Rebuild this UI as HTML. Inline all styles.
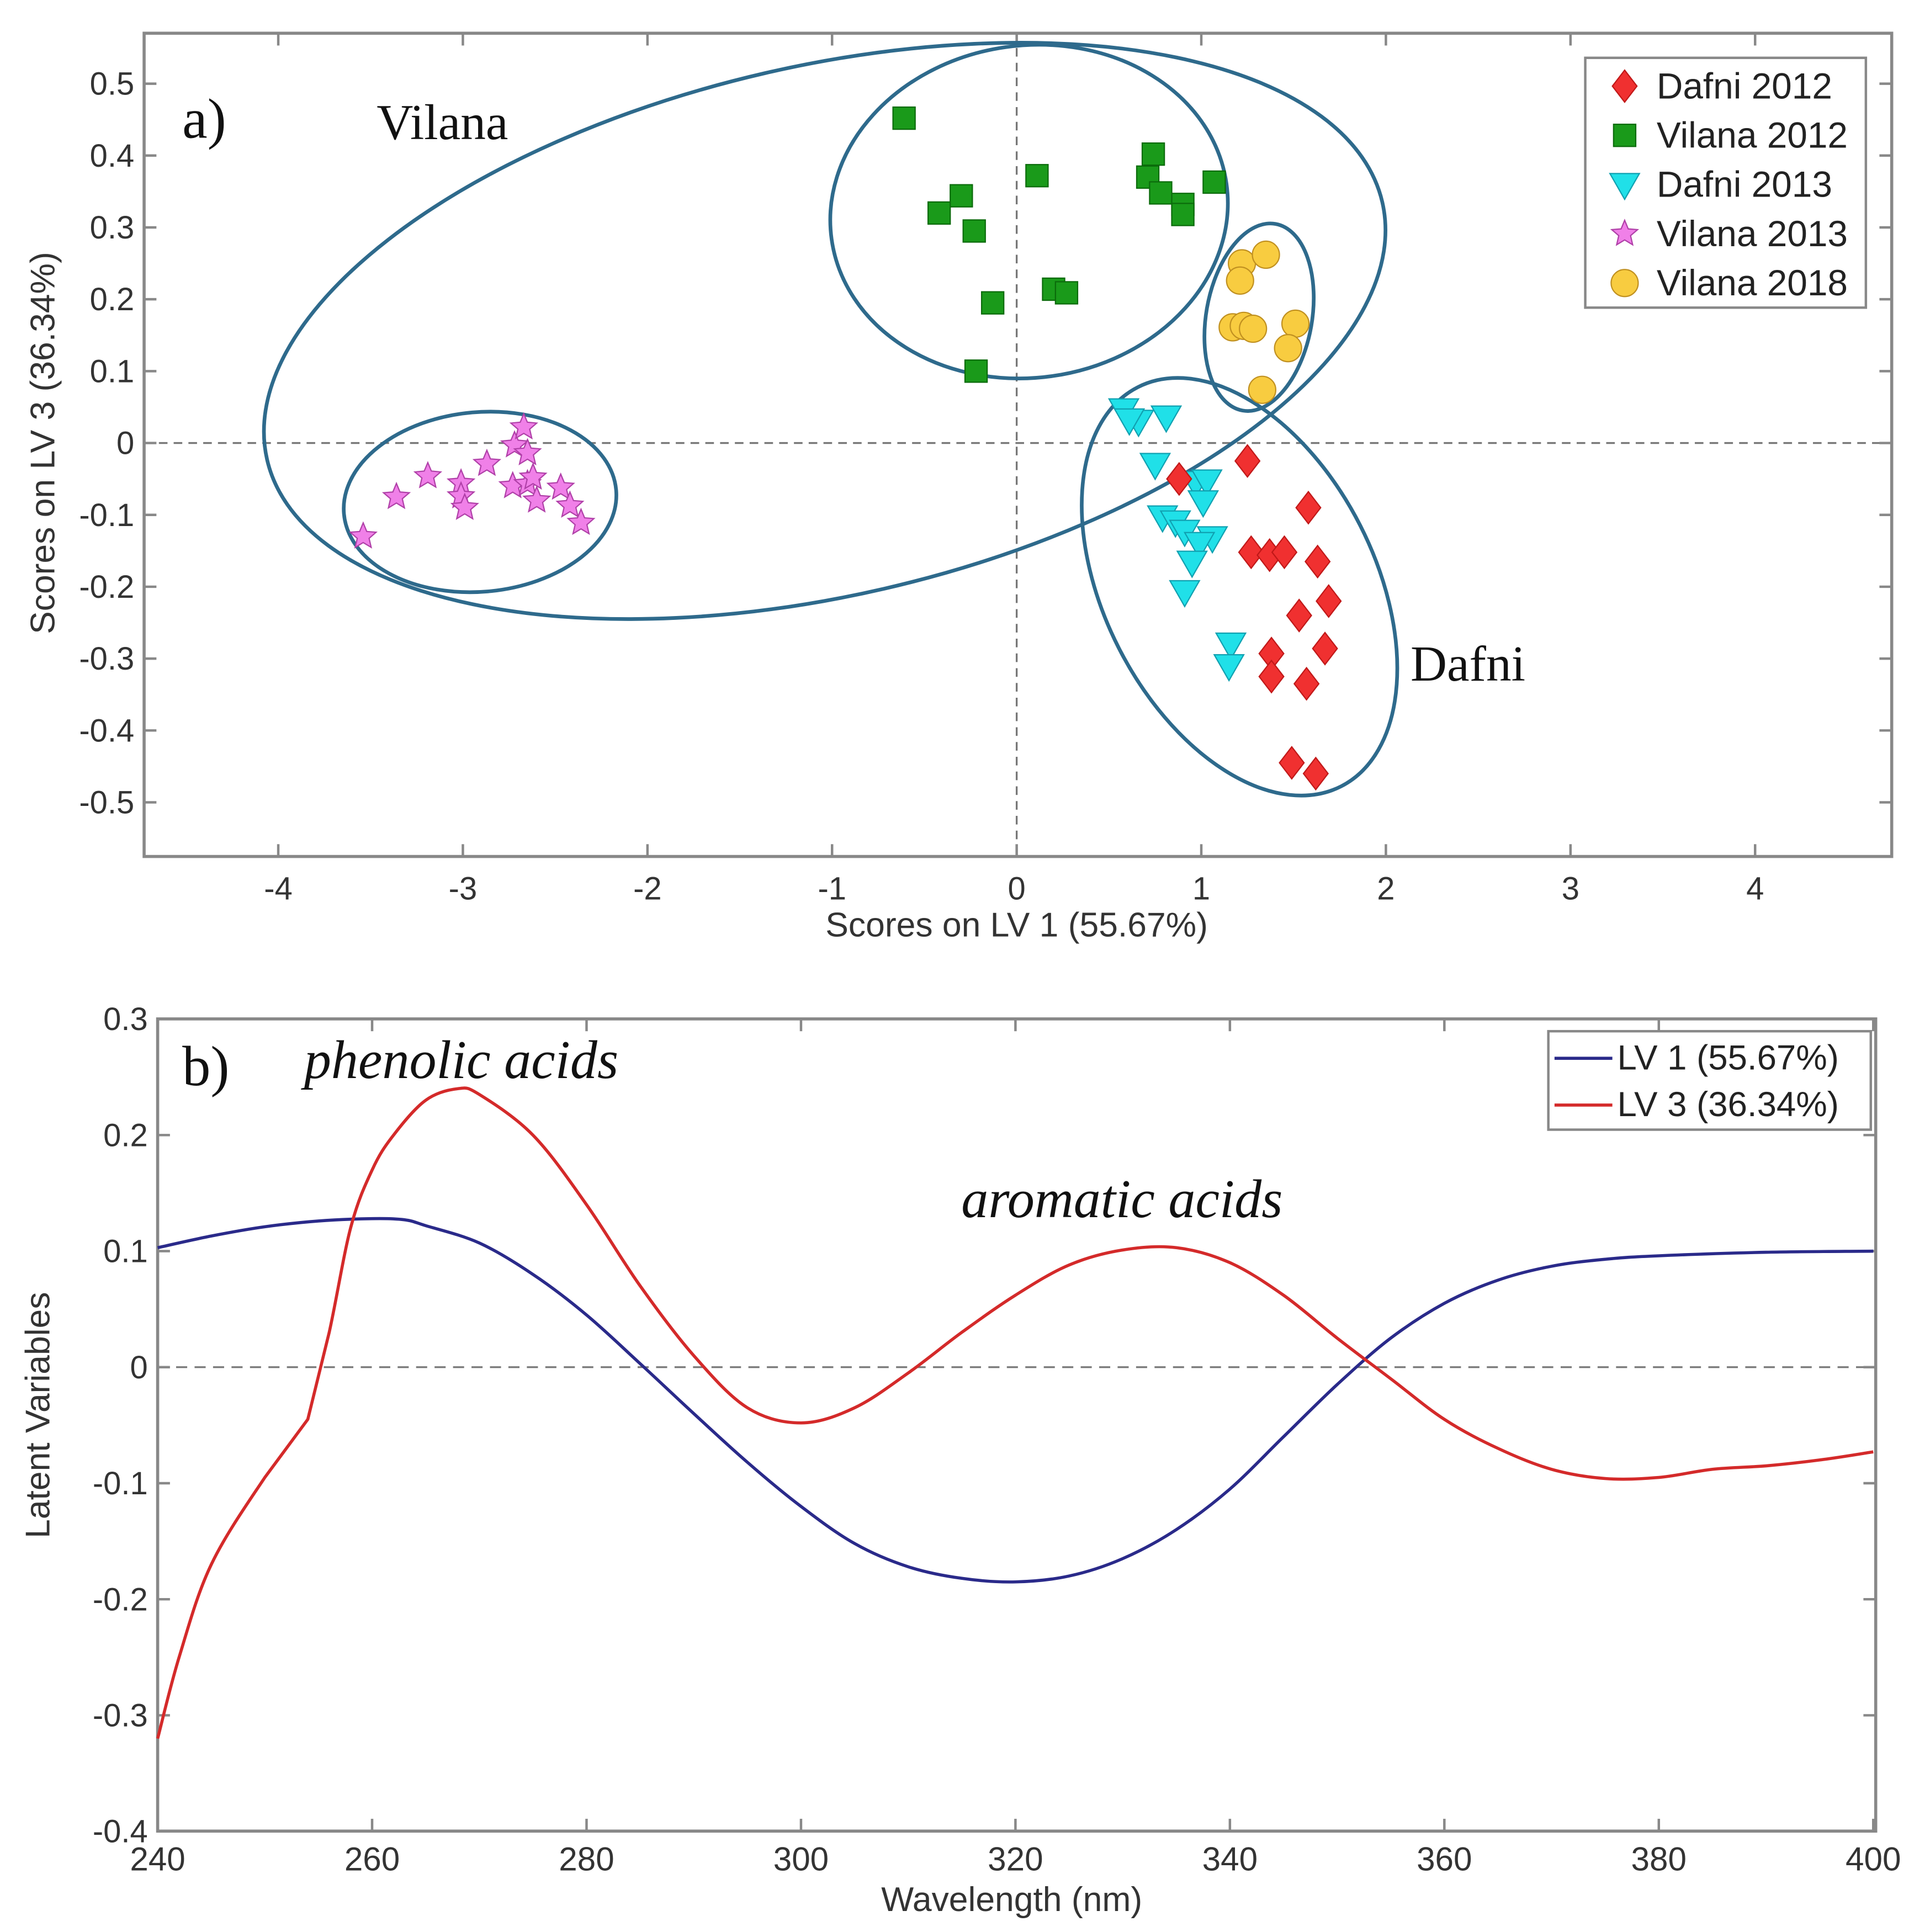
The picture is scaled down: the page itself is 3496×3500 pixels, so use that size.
<!DOCTYPE html>
<html><head><meta charset="utf-8"><style>html,body{margin:0;padding:0;background:#fff}svg{display:block}</style></head>
<body>
<svg id="fig" width="3496" height="3500" viewBox="0 0 1568 1570" xmlns="http://www.w3.org/2000/svg" font-family="'Liberation Sans', sans-serif">
<rect width="1568" height="1570" fill="#fff"/>
<g id="pa"></g>
<g id="pb"></g>
</svg>
<script>
// ---- Panel a data ----
const xTicksA=[-4,-3,-2,-1,0,1,2,3,4];
const yTicksA=[0.5,0.4,0.3,0.2,0.1,0,-0.1,-0.2,-0.3,-0.4,-0.5];
const dafni2012X=[1.25,0.88,1.58,1.27,1.37,1.45,1.63,1.69,1.53,1.38,1.67,1.38,1.57,1.49,1.62];
const dafni2012Y=[-0.025,-0.05,-0.09,-0.152,-0.156,-0.152,-0.165,-0.22,-0.24,-0.293,-0.286,-0.325,-0.335,-0.445,-0.46];
const vilana2012X=[-0.61,-0.42,-0.30,-0.23,-0.13,-0.22,0.11,0.20,0.27,0.74,0.71,0.78,0.90,0.90,1.07];
const vilana2012Y=[0.452,0.32,0.344,0.295,0.195,0.10,0.372,0.214,0.209,0.402,0.37,0.348,0.332,0.318,0.363];
const dafni2013X=[0.58,0.66,0.81,0.61,0.75,0.97,1.03,1.01,0.79,0.86,0.91,1.06,0.99,0.95,0.91,1.16,1.15];
const dafni2013Y=[0.046,0.03,0.036,0.032,-0.03,-0.055,-0.053,-0.082,-0.103,-0.11,-0.123,-0.132,-0.14,-0.166,-0.207,-0.28,-0.31];
const vilana2013X=[-3.54,-3.36,-3.19,-3.01,-3.01,-2.99,-2.87,-2.72,-2.67,-2.65,-2.73,-2.65,-2.62,-2.6,-2.47,-2.42,-2.36];
const vilana2013Y=[-0.13,-0.075,-0.046,-0.056,-0.074,-0.09,-0.029,-0.003,0.022,-0.014,-0.06,-0.057,-0.048,-0.08,-0.062,-0.087,-0.111];
const vilana2018X=[1.22,1.35,1.21,1.17,1.23,1.28,1.51,1.47,1.33];
const vilana2018Y=[0.25,0.262,0.226,0.161,0.163,0.159,0.166,0.132,0.074];
// ellipse centres (data units)
const ellCX=[-1.04,-2.907,0.067,1.313,1.207];
const ellCY=[0.156,-0.082,0.322,0.175,-0.200];
// ---- Panel b data ----
const xTicksB=[240,260,280,300,320,340,360,380,400];
const yTicksB=[0.3,0.2,0.1,0,-0.1,-0.2,-0.3,-0.4];
const lv1WL=[240,245,250,255,260,263,265,270,275,280,285,290,295,300,305,310,315,320,325,330,335,340,345,350,355,360,365,370,375,380,390,400];
const lv1Val=[0.103,0.113,0.121,0.126,0.128,0.127,0.122,0.107,0.08,0.045,0.003,-0.04,-0.082,-0.12,-0.152,-0.172,-0.182,-0.185,-0.18,-0.165,-0.14,-0.105,-0.06,-0.015,0.025,0.055,0.075,0.087,0.093,0.096,0.099,0.1];
const lv3WL=[240,242,245,250,254,256,258,260,262,265,268,270,275,280,285,290,295,300,305,310,315,320,325,330,335,340,345,350,355,360,365,370,375,380,385,390,395,400];
const lv3Val=[-0.32,-0.25,-0.17,-0.095,-0.045,0.03,0.12,0.17,0.2,0.23,0.24,0.235,0.2,0.14,0.07,0.01,-0.035,-0.048,-0.035,-0.005,0.03,0.062,0.088,0.101,0.103,0.09,0.062,0.025,-0.01,-0.045,-0.07,-0.088,-0.096,-0.095,-0.088,-0.085,-0.08,-0.073];

const NS='http://www.w3.org/2000/svg';
function mk(parent,tag,attrs,text){const e=document.createElementNS(NS,tag);for(const k in attrs)e.setAttribute(k,attrs[k]);if(text!==undefined)e.textContent=text;parent.appendChild(e);return e;}

// Panel a axes
const ax=v=>826+150*v, ay=v=>360-584*v;
const A={l:117,r:1537,t:27,b:696};
const pa=document.getElementById('pa');
let z=mk(pa,'line',{x1:A.l,x2:A.r,y1:ay(0),y2:ay(0),stroke:'#777','stroke-width':1.5,'stroke-dasharray':'7,5'});


z=mk(pa,'line',{x1:ax(0),x2:ax(0),y1:A.t,y2:A.b,stroke:'#777','stroke-width':1.5,'stroke-dasharray':'7,5'});


function lab(g,x,y,s,txt,opts,name){const o=Object.assign({x:x,y:y,'font-size':s,fill:'#111'},opts||{});const t=mk(g,'text',o,txt);
 
 
 return t;}
xTicksA.forEach(v=>{const x=ax(v);
 mk(pa,'line',{x1:x,x2:x,y1:A.b,y2:A.b-10,stroke:'#888','stroke-width':2});
 mk(pa,'line',{x1:x,x2:x,y1:A.t,y2:A.t+10,stroke:'#888','stroke-width':2});
 lab(pa,x,A.b+35,26,String(v),{fill:'#333','text-anchor':'middle'},'x-tick-label');});
yTicksA.forEach(v=>{const y=ay(v);
 mk(pa,'line',{x1:A.l,x2:A.l+10,y1:y,y2:y,stroke:'#888','stroke-width':2});
 mk(pa,'line',{x1:A.r,x2:A.r-10,y1:y,y2:y,stroke:'#888','stroke-width':2});
 lab(pa,A.l-8,y+9,26,String(v),{fill:'#333','text-anchor':'end'},'y-tick-label');});
let fr=mk(pa,'rect',{x:A.l,y:A.t,width:A.r-A.l,height:A.b-A.t,fill:'none',stroke:'#888','stroke-width':2.5});


const ellR=[[465,215,-13],[111,73,-5],[162,135,-8],[43,77,10],[110,182,-27]];
const ellNames=['ellipse-vilana','ellipse-vilana-2013','ellipse-vilana-2012','ellipse-vilana-2018','ellipse-dafni'];
ellCX.forEach((cx,i)=>{const px=ax(cx),py=ay(ellCY[i]);
 const e=mk(pa,'ellipse',{cx:px,cy:py,rx:ellR[i][0],ry:ellR[i][1],transform:`rotate(${ellR[i][2]} ${px} ${py})`,fill:'none',stroke:'#2e6a8c','stroke-width':3});
 
 });
function diamond(g,x,y){return mk(g,'polygon',{points:`${x},${y-13} ${x+10},${y} ${x},${y+13} ${x-10},${y}`,fill:'#f03030',stroke:'#c01818','stroke-width':1});}
function square(g,x,y){return mk(g,'rect',{x:x-9,y:y-9,width:18,height:18,fill:'#1a9a1a',stroke:'#0b6b0b','stroke-width':1});}
function tri(g,x,y){return mk(g,'polygon',{points:`${x-12},${y-9} ${x+12},${y-9} ${x},${y+12}`,fill:'#20e0e8',stroke:'#10a0b0','stroke-width':1});}
function star(g,x,y){let p=[];for(let k=0;k<10;k++){const r=k%2?5:11;const a=-Math.PI/2+k*Math.PI/5;p.push((x+r*Math.cos(a)).toFixed(1)+','+(y+r*Math.sin(a)).toFixed(1));}return mk(g,'polygon',{points:p.join(' '),fill:'#f080e8',stroke:'#b040a8','stroke-width':1});}
function circ(g,x,y){return mk(g,'circle',{cx:x,cy:y,r:11,fill:'#f8cc40',stroke:'#c09020','stroke-width':1});}
const series=[[vilana2013X,vilana2013Y,star,'point-vilana-2013'],[vilana2012X,vilana2012Y,square,'point-vilana-2012'],[vilana2018X,vilana2018Y,circ,'point-vilana-2018'],[dafni2013X,dafni2013Y,tri,'point-dafni-2013'],[dafni2012X,dafni2012Y,diamond,'point-dafni-2012']];
series.forEach(s=>{s[0].forEach((v,i)=>{const m=s[2](pa,ax(v),ay(s[1][i]));
 
 });});
const lg=mk(pa,'g',{});


mk(lg,'rect',{x:1288,y:47,width:228,height:203,fill:'#fff',stroke:'#888','stroke-width':2});
const legFns=[diamond,square,tri,star,circ],legTxt=['Dafni 2012','Vilana 2012','Dafni 2013','Vilana 2013','Vilana 2018'];
legTxt.forEach((t,i)=>{const y=70+40*i;const m=legFns[i](lg,1320,y);
 
 
 lab(lg,1346,y+10,29.5,t,{fill:'#222'},'legend-entry');});
const serif="'Liberation Serif', serif";
lab(pa,148,112,46,'a)',{'font-family':serif},'panel-label-a');
lab(pa,306,113,41,'Vilana',{'font-family':serif},'annotation-vilana');
lab(pa,1146,553,41,'Dafni',{'font-family':serif},'annotation-dafni');
lab(pa,826,761,28,'Scores on LV 1 (55.67%)',{'text-anchor':'middle',fill:'#333'},'x-axis-title-a');
lab(pa,44,360,28,'Scores on LV 3 (36.34%)',{'text-anchor':'middle',fill:'#333',transform:'rotate(-90 44 360)'},'y-axis-title-a');

// Panel b
const B={l:128,r:1524,t:828,b:1488};
const bx=v=>128+(v-240)*(1522-128)/160, by=v=>1111-943*v;
const pb=document.getElementById('pb');
z=mk(pb,'line',{x1:B.l,x2:B.r,y1:by(0),y2:by(0),stroke:'#777','stroke-width':1.5,'stroke-dasharray':'9,6'});


xTicksB.forEach(v=>{const x=bx(v);
 mk(pb,'line',{x1:x,x2:x,y1:B.b,y2:B.b-10,stroke:'#888','stroke-width':2});
 mk(pb,'line',{x1:x,x2:x,y1:B.t,y2:B.t+10,stroke:'#888','stroke-width':2});
 lab(pb,x,B.b+32,27,String(v),{'text-anchor':'middle',fill:'#333'},'x-tick-label');});
yTicksB.forEach(v=>{const y=by(v);
 mk(pb,'line',{x1:B.l,x2:B.l+10,y1:y,y2:y,stroke:'#888','stroke-width':2});
 mk(pb,'line',{x1:B.r,x2:B.r-10,y1:y,y2:y,stroke:'#888','stroke-width':2});
 lab(pb,B.l-8,y+9,26,String(v),{'text-anchor':'end',fill:'#333'},'y-tick-label');});
fr=mk(pb,'rect',{x:B.l,y:B.t,width:B.r-B.l,height:B.b-B.t,fill:'none',stroke:'#888','stroke-width':2.5});


function line(xs,ys,col,name){
 const P=xs.map((v,i)=>[bx(v),by(ys[i])]);
 let d='M'+P[0][0].toFixed(1)+','+P[0][1].toFixed(1);
 for(let i=0;i<P.length-1;i++){const p0=P[Math.max(0,i-1)],p1=P[i],p2=P[i+1],p3=P[Math.min(P.length-1,i+2)];
  const t=(i===3||i===4)&&name==='line-lv3'?0:1/6;
  d+=` C${(p1[0]+(p2[0]-p0[0])*t).toFixed(1)},${(p1[1]+(p2[1]-p0[1])*t).toFixed(1)} ${(p2[0]-(p3[0]-p1[0])*t).toFixed(1)},${(p2[1]-(p3[1]-p1[1])*t).toFixed(1)} ${p2[0].toFixed(1)},${p2[1].toFixed(1)}`;}
 const p=mk(pb,'path',{d:d,fill:'none',stroke:col,'stroke-width':2.5,'stroke-linejoin':'round'});
 
 }
line(lv1WL,lv1Val,'#2a2a8a','line-lv1');
line(lv3WL,lv3Val,'#d42a2a','line-lv3');
const lb=mk(pb,'g',{});


mk(lb,'rect',{x:1258,y:838,width:262,height:80,fill:'#fff',stroke:'#888','stroke-width':2});
mk(lb,'line',{x1:1263,x2:1310,y1:860,y2:860,stroke:'#2a2a8a','stroke-width':2.5});
mk(lb,'line',{x1:1263,x2:1310,y1:898,y2:898,stroke:'#d42a2a','stroke-width':2.5});
lab(lb,1314,869,28.5,'LV 1 (55.67%)',{fill:'#222'},'legend-entry');
lab(lb,1314,907,28.5,'LV 3 (36.34%)',{fill:'#222'},'legend-entry');
lab(pb,148,882,46,'b)',{'font-family':serif},'panel-label-b');
lab(pb,247,876,44,'phenolic acids',{'font-family':serif,'font-style':'italic'},'annotation-phenolic-acids');
lab(pb,781,989,44,'aromatic acids',{'font-family':serif,'font-style':'italic'},'annotation-aromatic-acids');
lab(pb,822,1553,28,'Wavelength (nm)',{'text-anchor':'middle',fill:'#333'},'x-axis-title-b');
lab(pb,40,1150,28,'Latent Variables',{'text-anchor':'middle',fill:'#333',transform:'rotate(-90 40 1150)'},'y-axis-title-b');
</script>
</body></html>
